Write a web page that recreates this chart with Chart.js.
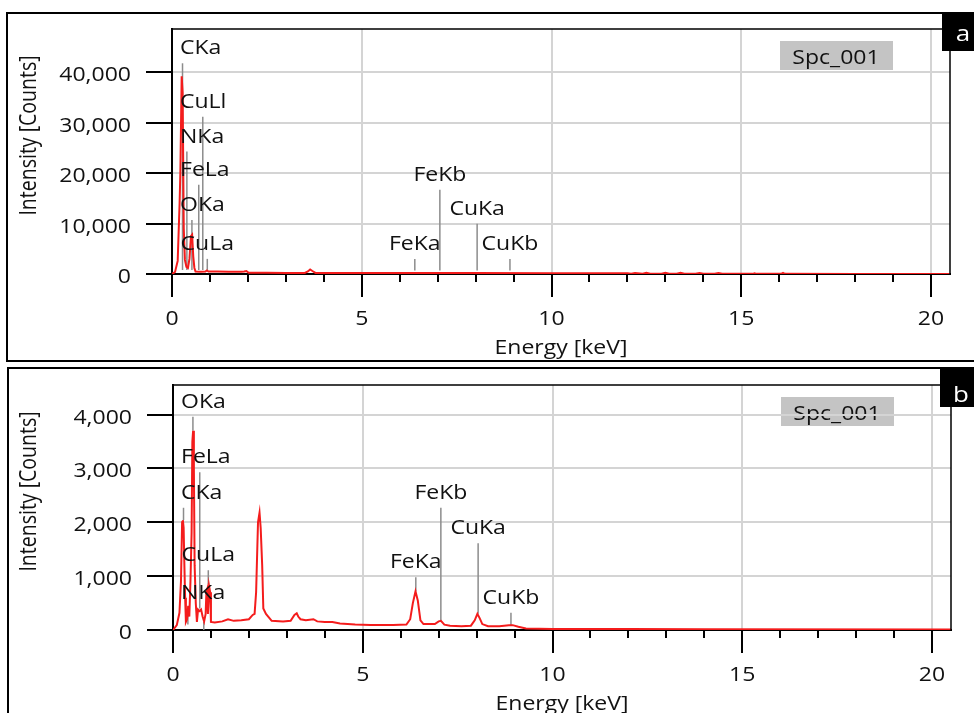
<!DOCTYPE html>
<html>
<head>
<meta charset="utf-8">
<script src="https://cdn.jsdelivr.net/npm/chart.js@4.4.1/dist/chart.umd.min.js"></script>
<style>
body { margin: 0; background: #fff; width: 974px; height: 713px; overflow: hidden; position: relative; }
canvas { position: absolute; left: 0; }
#chartA { top: 0; }
#chartB { top: 364px; }
</style>
</head>
<body>
<canvas id="chartA" width="974" height="364"></canvas>
<canvas id="chartB" width="974" height="349"></canvas>
<script>
// axis ticks
const energyTicks = [0, 5, 10, 15, 20]
const minorStep = 1
const countTicksA = [0, 10000, 20000, 30000, 40000]
const countTicksB = [0, 1000, 2000, 3000, 4000]

// spectrum a (keV / counts)
const energyA = [0, 0.08, 0.15, 0.2, 0.22, 0.255, 0.28, 0.31, 0.34, 0.38, 0.42, 0.46, 0.5, 0.53, 0.56, 0.59, 0.62,
    0.75, 0.88, 0.92, 0.96, 1.2, 1.5, 1.83, 1.9, 1.96, 2.02, 2.5, 3, 3.5, 3.58, 3.64, 3.7, 3.78, 4.5, 6, 8, 10, 12,
    12.1, 12.2, 12.4, 12.5, 12.6, 12.9, 13, 13.1, 13.3, 13.4, 13.5, 13.8, 13.9, 14.0, 14.3, 14.4, 14.5, 15, 15.3,
    15.35, 15.4, 16.05, 16.1, 16.15, 18, 20.5]
const countsA = [0, 400, 2600, 14000, 20000, 39200, 36000, 9000, 2800, 1400, 1200, 3000, 7500, 7800, 3500, 1200, 500,
    450, 480, 700, 500, 480, 470, 470, 500, 600, 250, 230, 220, 220, 500, 900, 600, 220, 200, 190, 180, 170, 160,
    40, 220, 40, 230, 40, 40, 240, 40, 40, 250, 40, 40, 200, 40, 40, 180, 30, 30, 30,
    150, 30, 30, 220, 30, 20, 20]

// spectrum b
const energyB = [0, 0.1, 0.17, 0.21, 0.24, 0.26, 0.28, 0.3, 0.32, 0.34, 0.37, 0.4, 0.43, 0.46, 0.49, 0.51, 0.53, 0.55,
    0.57, 0.6, 0.63, 0.66, 0.7, 0.74, 0.78, 0.82, 0.86, 0.88, 0.9, 0.92, 0.95, 0.98, 1, 1.1, 1.3, 1.45, 1.6, 1.8, 2,
    2.1, 2.15, 2.19, 2.24, 2.28, 2.31, 2.35, 2.38, 2.45, 2.6, 2.9, 3.1, 3.2, 3.26, 3.3, 3.36, 3.5, 3.7, 3.8, 4, 4.2,
    4.4, 4.6, 4.8, 5.2, 5.8, 6.15, 6.25, 6.32, 6.39, 6.45, 6.52, 6.6, 6.9, 7, 7.06, 7.15, 7.3, 7.6, 7.85, 7.95, 8.02,
    8.08, 8.15, 8.3, 8.6, 8.85, 8.95, 9.1, 9.3, 10, 12, 14, 20.5]
const countsB = [0, 90, 320, 900, 2000, 2040, 1900, 1200, 600, 150, 200, 450, 250, 900, 1800, 3500, 3700, 3000,
    1200, 500, 150, 380, 350, 380, 250, 160, 300, 700, 750, 300, 820, 700, 150, 140, 160, 200, 170, 180, 200,
    280, 300, 700, 2000, 2180, 1900, 1200, 400, 300, 170, 160, 170, 280, 310, 250, 200, 180, 200, 160, 150, 150,
    120, 110, 100, 95, 95, 100, 200, 500, 720, 550, 180, 110, 110, 160, 170, 100, 80, 70, 80, 180, 300,
    220, 110, 70, 70, 90, 90, 60, 30, 20, 20, 15, 10]

// element lines
const lineNamesA = ['CKa', 'NKa', 'OKa', 'FeLa', 'CuLl', 'CuLa', 'FeKa', 'FeKb', 'CuKa', 'CuKb']
const lineKeVA = [0.277, 0.392, 0.525, 0.705, 0.811, 0.93, 6.398, 7.058, 8.04, 8.905]
const lineTopA = [41800, 24300, 10700, 17700, 31200, 3000, 3000, 16700, 9950, 3000]
const lineBaseA = [800, 800, 800, 800, 800, 800, 700, 700, 700, 700]

const lineNamesB = ['CKa', 'NKa', 'OKa', 'FeLa', '', 'CuLa', 'FeKa', 'FeKb', 'CuKa', 'CuKb']
const lineKeVB = [0.277, 0.392, 0.525, 0.705, 0.811, 0.93, 6.398, 7.058, 8.04, 8.905]
const lineTopB = [2270, 410, 3960, 2930, 150, 1110, 980, 2270, 1610, 320]
const lineBaseB = [2040, 100, 3700, 400, 0, 850, 720, 170, 300, 90]

const FONT = '"Open Sans", "Noto Sans", sans-serif'
const STRETCH = 1.18  // the original text is wide

// text drawn a bit wider than the font
function wideText(ctx, str, x, y, align) {
    ctx.save()
    ctx.translate(x, y)
    ctx.scale(STRETCH, 1)
    ctx.textAlign = align
    ctx.fillText(str, 0, 0)
    ctx.restore()
}

const deco = {
    id: 'deco',
    beforeDraw(chart, args, o) {
        const ctx = chart.ctx, a = chart.chartArea
        ctx.save()
        ctx.fillStyle = '#fff'
        ctx.fillRect(0, 0, chart.width, chart.height)
        ctx.strokeStyle = '#000'
        ctx.lineWidth = 2
        ctx.strokeRect(o.frame[0], o.frame[1], o.frame[2], o.frame[3])
        // sample name box
        const bx = a.right - 170, by = a.top + 12
        ctx.fillStyle = '#c4c4c4'
        ctx.fillRect(bx, by, 113, 29)
        ctx.fillStyle = '#111'
        ctx.font = '19.5px ' + FONT
        ctx.textBaseline = 'alphabetic'
        wideText(ctx, 'Spc_001', bx + 56, by + 22.5, 'center')
        ctx.restore()
    },
    afterDatasetsDraw(chart, args, o) {
        const ctx = chart.ctx, a = chart.chartArea
        const x = chart.scales.x, y = chart.scales.y
        ctx.save()
        ctx.strokeStyle = '#000'
        ctx.lineWidth = 1.5
        ctx.beginPath()
        ctx.moveTo(a.left, a.top)
        ctx.lineTo(a.right, a.top)
        ctx.lineTo(a.right, a.bottom)
        ctx.stroke()
        //peak labels
        ctx.font = '19.5px ' + FONT
        ctx.fillStyle = '#111'
        ctx.textBaseline = 'alphabetic'
        o.names.forEach((n, i) => {
            if (!n) return
            const px = x.getPixelForValue(o.keV[i])
            const py = y.getPixelForValue(o.top[i])
            const w = ctx.measureText(n).width * STRETCH
            wideText(ctx, n, Math.max(a.left + 8, px - w / 2), py - 9, 'left')
        })
        ctx.restore()
    },
    afterDraw(chart, args, o) {
        const ctx = chart.ctx, a = chart.chartArea
        const x = chart.scales.x, y = chart.scales.y
        ctx.save()
        ctx.strokeStyle = '#000'
        ctx.lineWidth = 2
        ctx.beginPath()
        for (let v = 0; v <= energyTicks[energyTicks.length - 1]; v += minorStep) {
            const px = Math.round(x.getPixelForValue(v))
            const len = energyTicks.includes(v) ? 23 : 8
            ctx.moveTo(px, a.bottom)
            ctx.lineTo(px, a.bottom + len)
        }
        y.ticks.forEach(t => {
            const py = Math.round(y.getPixelForValue(t.value))
            ctx.moveTo(a.left - 26, py)
            ctx.lineTo(a.left, py)
        })
        ctx.stroke()
        // tick labels
        ctx.fillStyle = '#111'
        ctx.font = '19.5px ' + FONT
        ctx.textBaseline = 'alphabetic'
        x.ticks.forEach(t => {
            wideText(ctx, String(t.value), x.getPixelForValue(t.value), a.bottom + 51, 'center')
        })
        y.ticks.forEach(t => {
            wideText(ctx, t.value.toLocaleString('en-US'), a.left - 41, y.getPixelForValue(t.value) + 9, 'right')
        })
        // axis titles
        wideText(ctx, 'Energy [keV]', (a.left + a.right) / 2, a.bottom + 80, 'center')
        ctx.save()
        ctx.translate(29, (a.top + a.bottom) / 2 - 16)
        ctx.rotate(-Math.PI / 2)
        ctx.scale(1, STRETCH)
        ctx.textAlign = 'center'
        ctx.textBaseline = 'middle'
        ctx.fillText('Intensity [Counts]', 0, 0)
        ctx.restore()
        // corner letter
        ctx.fillStyle = '#000'
        ctx.fillRect(o.corner[0], o.corner[1], o.corner[2], o.corner[3])
        ctx.fillStyle = '#fff'
        ctx.font = '22px ' + FONT
        wideText(ctx, o.letter, o.corner[0] + 21, o.letterY, 'center')
        ctx.restore()
    }
}

function makePanel(id, energy, counts, names, keV, top, base, ticksY, yMax, pad, xHeight, yWidth, extra) {
    const datasets = [{
        data: energy.map((e, i) => ({ x: e, y: counts[i] })),
        borderColor: '#f41c1c',
        borderWidth: 2,
        pointRadius: 0,
        tension: 0
    }]
    keV.forEach((e, i) => {
        datasets.push({
            data: [{ x: e, y: base[i] }, { x: e, y: top[i] }],
            borderColor: '#8c8c8c',
            borderWidth: 1.5,
            pointRadius: 0
        })
    })
    return new Chart(document.getElementById(id), {
        type: 'line',
        data: { datasets },
        options: {
            responsive: false,
            animation: false,
            devicePixelRatio: 1,
            layout: { padding: pad },
            plugins: {
                legend: { display: false },
                tooltip: { enabled: false },
                deco: Object.assign({ names, keV, top }, extra)
            },
            scales: {
                x: {
                    type: 'linear',
                    min: 0,
                    max: 20.5,
                    afterBuildTicks: s => { s.ticks = energyTicks.map(v => ({ value: v })) },
                    afterFit: s => { s.height = xHeight; s.paddingLeft = 0; s.paddingRight = 0 },
                    grid: {
                        drawTicks: false,
                        lineWidth: 2,
                        color: c => (c.tick && c.tick.value > 0) ? '#d4d4d4' : 'rgba(0,0,0,0)'
                    },
                    border: { color: '#000', width: 2 },
                    ticks: { display: false }
                },
                y: {
                    min: 0,
                    max: yMax,
                    afterBuildTicks: s => { s.ticks = ticksY.map(v => ({ value: v })) },
                    afterFit: s => { s.width = yWidth; s.paddingTop = 0; s.paddingBottom = 0 },
                    grid: {
                        drawTicks: false,
                        lineWidth: 2,
                        color: c => (c.tick && c.tick.value > 0) ? '#d4d4d4' : 'rgba(0,0,0,0)'
                    },
                    border: { color: '#000', width: 2 },
                    ticks: { display: false }
                }
            }
        },
        plugins: [deco]
    })
}

makePanel('chartA', energyA, countsA, lineNamesA, lineKeVA, lineTopA, lineBaseA, countTicksA, 48600,
    { left: 0, top: 29, right: 24, bottom: 0 }, 90, 172,
    { frame: [7, 13, 1000, 348], corner: [942, 13, 40, 38], letter: 'a', letterY: 41 })

makePanel('chartB', energyB, countsB, lineNamesB, lineKeVB, lineTopB, lineBaseB, countTicksB, 4550,
    { left: 0, top: 21, right: 23, bottom: 0 }, 83, 173,
    { frame: [8, 4, 1000, 400], corner: [940, 4, 40, 39], letter: 'b', letterY: 38 })
</script>
</body>
</html>
